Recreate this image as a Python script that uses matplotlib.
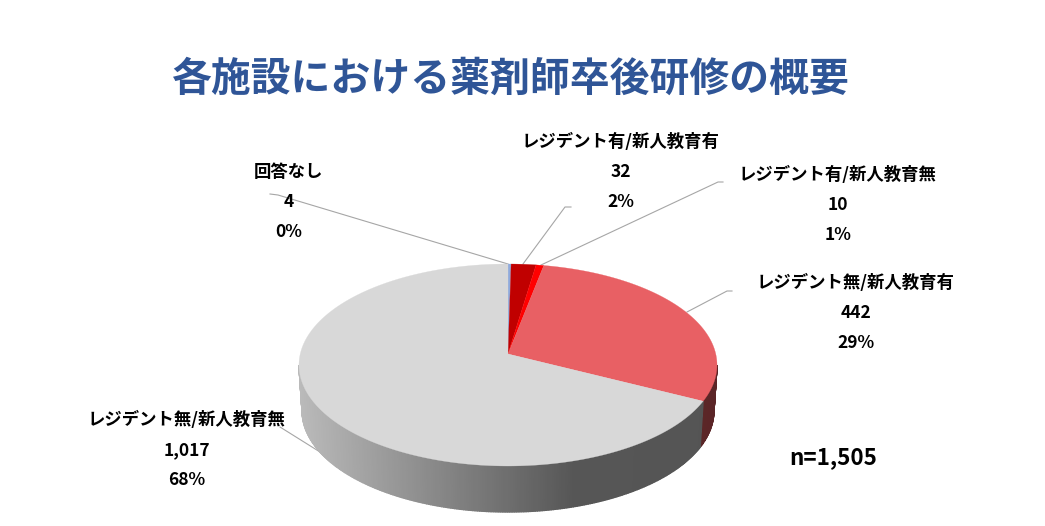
"""
各施設における薬剤師卒後研修の概要: pseudo-3D pie chart.
"""
import numpy as np
import matplotlib
matplotlib.use("Agg")
import matplotlib.pyplot as plt

plt.rcParams["font.family"] = ["Noto Sans CJK JP", "DejaVu Sans"]

LABELS = ["回答なし", "レジデント有/新人教育有", "レジデント有/新人教育無",
          "レジデント無/新人教育有", "レジデント無/新人教育無"]
VALUES = [4, 32, 10, 442, 1017]
VALUE_TEXT = ["4", "32", "10", "442", "1,017"]
PERCENTS = ["0%", "2%", "1%", "29%", "68%"]
COLORS = ["#8FAADC", "#C00000", "#FF0000", "#E86064", "#D8D8D8"]

W, H = 1045, 526
CX, CY, RX, RY = 508, 365, 209, 101
APEX = 11 / RY  # perspective: pie centre sits above the ellipse centre
DEPTH = 46
BOTTOM_SCALE = 0.985  # lower rim is a little narrower

# label centres in pixels and leader lines
LABEL_POS = [(289, 172), (621, 142), (838, 175), (856, 283), (187, 420)]
LINE_SPACING = 30
LEADERS = [
    [(270, 194), (278, 195), (508, 264)],
    [(571, 207), (565, 207), (523, 264)],
    [(723, 182), (718, 182), (541, 265)],
    [(732, 291), (727, 291), (687, 312)],
    [(280, 427), (320, 452)],
]


def project(theta):
    # circle to ellipse, theta clockwise from top, returns pixels
    x, y = np.sin(theta), np.cos(theta)
    den = 1 + APEX * y
    px = CX + RX * x * np.sqrt(1 - APEX ** 2) / den
    py = CY - RY * (y + APEX) / den
    return px, py


def shade(px):
    return np.interp(px, [CX - RX, CX + 0.31 * RX, CX + RX], [0.86, 0.40, 0.39])


def main():
    fig = plt.figure(figsize=(W / 100, H / 100), dpi=100)
    ax = fig.add_axes([0, 0, 1, 1])
    ax.set_xlim(0, W)
    ax.set_ylim(H, 0)
    ax.axis("off")

    edges = np.cumsum([0] + VALUES) / np.sum(VALUES) * 2 * np.pi
    front = np.pi / 2 + np.arcsin(APEX)

    # side wall, front part only, shaded left to right
    for i, color in enumerate(COLORS):
        lo = max(edges[i], front)
        hi = min(edges[i + 1], 2 * np.pi - front)
        if hi <= lo:
            continue
        rgb = np.array(matplotlib.colors.to_rgb(color))
        xs, ys = project(np.linspace(lo, hi, max(int((hi - lo) * 100), 2)))
        xb = CX + (xs - CX) * BOTTOM_SCALE
        for j in range(len(xs) - 1):
            xm = (xs[j] + xs[j + 1]) / 2
            ax.fill([xs[j], xs[j + 1], xb[j + 1], xb[j]],
                    [ys[j], ys[j + 1], ys[j + 1] + DEPTH, ys[j] + DEPTH],
                    color=rgb * shade(xm), linewidth=1.0, zorder=2)

    # top face
    for i, color in enumerate(COLORS):
        xs, ys = project(np.linspace(edges[i], edges[i + 1], 300))
        ax.fill(np.r_[CX, xs], np.r_[CY - RY * APEX, ys], color=color,
                linewidth=0.2, zorder=3)

    ax.text(510, 79, "各施設における薬剤師卒後研修の概要", color="#2F5597",
            fontsize=28.7, fontweight="bold", ha="center", va="center")

    for pts in LEADERS:
        px, py = zip(*pts)
        ax.plot(px, py, color="#A6A6A6", linewidth=0.8, zorder=1)

    for (x, y), name, val, pct in zip(LABEL_POS, LABELS, VALUE_TEXT, PERCENTS):
        for k, s in enumerate((name, val, pct)):
            ax.text(x, y + k * LINE_SPACING, s, fontsize=12.5, fontweight="bold",
                    color="black", ha="center", va="center", zorder=4)

    ax.text(833, 458, "n=1,505", fontsize=16.2, fontweight="bold",
            color="black", ha="center", va="center")

    fig.savefig("out.png", dpi=100)
    plt.close(fig)


if __name__ == "__main__":
    main()
